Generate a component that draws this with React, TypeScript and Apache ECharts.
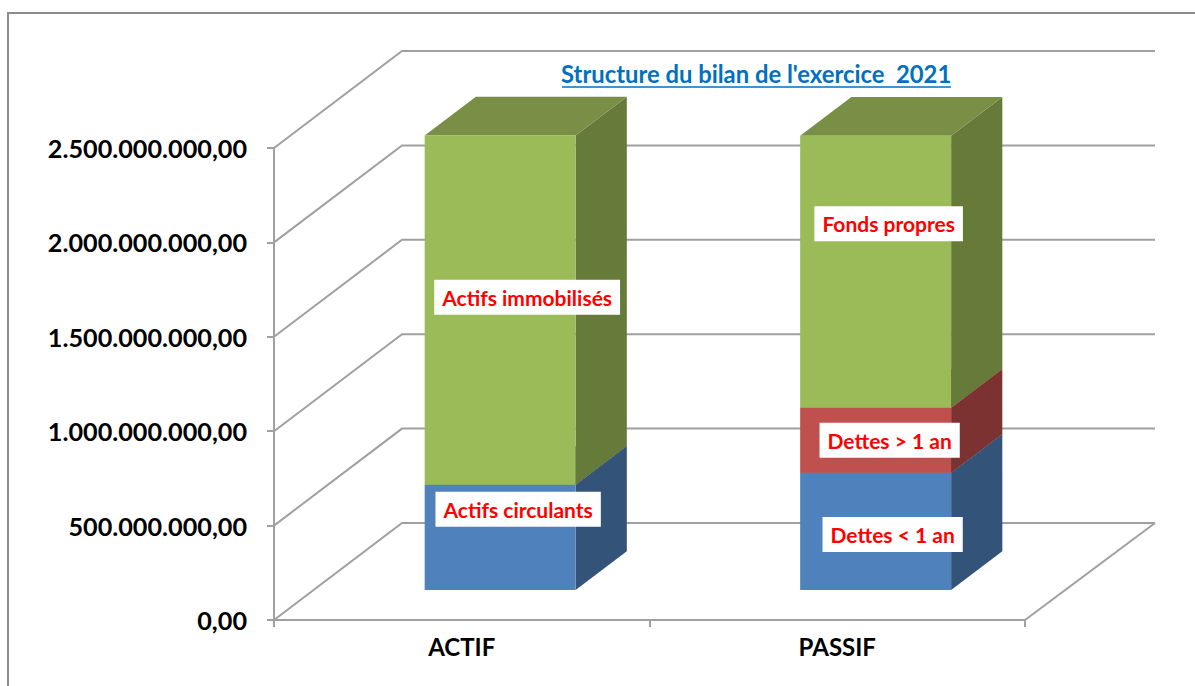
import React, { useEffect, useRef } from "react";
import * as echarts from "echarts";

const categories = ["ACTIF", "PASSIF"];
const yTicks = [0, 500000000, 1000000000, 1500000000, 2000000000, 2500000000];
const chartTitle = "Structure du bilan de l'exercice  2021";

const actifsCirculants = [557000000, 0];
const actifsImmobilises = [1850000000, 0];
const dettesMoins1An = [0, 620000000];
const dettesPlus1An = [0, 345000000];
const fondsPropres = [0, 1440000000];

const FONT = "Lato, Carlito, 'Open Sans', sans-serif";
const GREY = "#A0A0A0";
const DEPTH = { dx: 128, dy: -97 };
const BAR = { ratio: 0.402, tx: 0.3, ty: 0.31, depth: 0.4 };

const stacks = [
  { name: "Actifs circulants", values: actifsCirculants, below: [] as number[][], front: "#4F81BD", side: "#335379", top: "#3F6797", nudge: [18, -28] },
  { name: "Actifs immobilisés", values: actifsImmobilises, below: [actifsCirculants], front: "#9BBB59", side: "#667A3A", top: "#788F45", nudge: [27, -13] },
  { name: "Dettes < 1 an", values: dettesMoins1An, below: [], front: "#4F81BD", side: "#335379", top: "#3F6797", nudge: [17, 3] },
  { name: "Dettes > 1 an", values: dettesPlus1An, below: [dettesMoins1An], front: "#C0504D", side: "#7C3230", top: "#9A403D", nudge: [14, 0] },
  { name: "Fonds propres", values: fondsPropres, below: [dettesMoins1An, dettesPlus1An], front: "#9BBB59", side: "#667A3A", top: "#788F45", nudge: [13, -48] },
];

function formatTick(v: number) {
  const [a, b] = v.toFixed(2).split(".");
  return a.replace(/\B(?=(\d{3})+$)/g, ".") + "," + b;
}

function wallSeries() {
  return {
    type: "custom",
    silent: true,
    z: 1,
    data: yTicks.map((v) => [0, v]),
    encode: { x: 0, y: 1 },
    renderItem: (_p: any, api: any) => {
      const v = api.value(1);
      const band = api.size([1, 0])[0];
      const left = api.coord([0, v])[0] - band / 2;
      const right = api.coord([1, v])[0] + band / 2;
      const y = api.coord([0, v])[1];
      const style = { stroke: GREY, lineWidth: 2, fill: "none" };
      const children: any[] = [
        {
          type: "polyline",
          shape: { points: [[left, y], [left + DEPTH.dx, y + DEPTH.dy], [right + DEPTH.dx + 2, y + DEPTH.dy]] },
          style,
        },
      ];
      if (v === 0) {
        children.push({
          type: "line",
          shape: { x1: right, y1: y, x2: right + DEPTH.dx + 2, y2: y + DEPTH.dy },
          style,
        });
      }
      return { type: "group", children };
    },
  };
}

function stackSeries(s: (typeof stacks)[number]) {
  const data = s.values
    .map((value, i) => {
      const start = s.below.reduce((sum, arr) => sum + arr[i], 0);
      return [i, start, start + value];
    })
    .filter((d) => d[2] > d[1]);
  return {
    type: "custom",
    name: s.name,
    silent: true,
    z: 2,
    data,
    encode: { x: 0, y: [1, 2] },
    renderItem: (_p: any, api: any) => {
      const i = api.value(0);
      const band = api.size([1, 0])[0];
      const w = band * BAR.ratio;
      const ox = DEPTH.dx * BAR.tx;
      const oy = DEPTH.dy * BAR.ty;
      const sx = DEPTH.dx * BAR.depth;
      const sy = DEPTH.dy * BAR.depth;
      const c0 = api.coord([i, api.value(1)]);
      const c1 = api.coord([i, api.value(2)]);
      const x0 = c0[0] + ox - w / 2;
      const x1 = x0 + w;
      const yb = c0[1] + oy;
      const yt = c1[1] + oy;
      const children: any[] = [
        {
          type: "polygon",
          shape: { points: [[x1, yb], [x1 + sx, yb + sy], [x1 + sx, yt + sy], [x1, yt]] },
          style: { fill: s.side },
        },
        {
          type: "polygon",
          shape: { points: [[x0, yt], [x0 + sx, yt + sy], [x1 + sx, yt + sy], [x1, yt]] },
          style: { fill: s.top },
        },
        {
          type: "rect",
          shape: { x: x0, y: yt, width: w, height: yb - yt },
          style: { fill: s.front },
        },
        {
          type: "text",
          z2: 10,
          x: (x0 + x1) / 2 + s.nudge[0],
          y: (yb + yt) / 2 + s.nudge[1],
          style: {
            text: s.name,
            fill: "#FF0000",
            font: `bold 21px ${FONT}`,
            align: "center",
            verticalAlign: "middle",
            backgroundColor: "#FFFFFF",
            padding: [7, 8, 7, 8],
          },
        },
      ];
      return { type: "group", children };
    },
  };
}

export default function App() {
  const ref = useRef<HTMLDivElement>(null);
  useEffect(() => {
    const chart = echarts.init(ref.current!, undefined, { renderer: "svg" });
    chart.setOption({
      animation: false,
      backgroundColor: "#FFFFFF",
      title: {
        text: chartTitle,
        left: 561,
        top: 62,
        padding: 0,
        textStyle: { color: "#0070C0", fontFamily: FONT, fontWeight: "bold", fontSize: 23.8 },
      },
      grid: { left: 274, right: 170, top: 148, bottom: 66 },
      xAxis: {
        type: "category",
        data: categories,
        axisLine: { lineStyle: { color: GREY, width: 2 } },
        axisTick: { show: true, length: 7, lineStyle: { color: GREY, width: 2 } },
        axisLabel: { color: "#000", fontFamily: FONT, fontWeight: "bold", fontSize: 24, margin: 14 },
      },
      yAxis: {
        type: "value",
        min: 0,
        max: 2500000000,
        interval: 500000000,
        splitLine: { show: false },
        axisLine: { show: true, lineStyle: { color: GREY, width: 2 } },
        axisTick: { show: true, length: 7, lineStyle: { color: GREY, width: 2 } },
        axisLabel: { color: "#000", fontFamily: FONT, fontWeight: "bold", fontSize: 25.2, margin: 27, formatter: formatTick },
      },
      graphic: [
        { type: "line", silent: true, shape: { x1: 562, y1: 87, x2: 951, y2: 87 }, style: { stroke: "#0070C0", lineWidth: 1.5 } },
        { type: "polyline", silent: true, shape: { points: [[8, 686], [8, 13], [1195, 13]] }, style: { stroke: "#8C8C8C", lineWidth: 2, fill: "none" } },
      ],
      series: [wallSeries(), ...stacks.map(stackSeries)],
    });
    return () => chart.dispose();
  }, []);
  return <div ref={ref} style={{ position: "fixed", left: 0, top: 0, width: 1195, height: 686 }} />;
}
